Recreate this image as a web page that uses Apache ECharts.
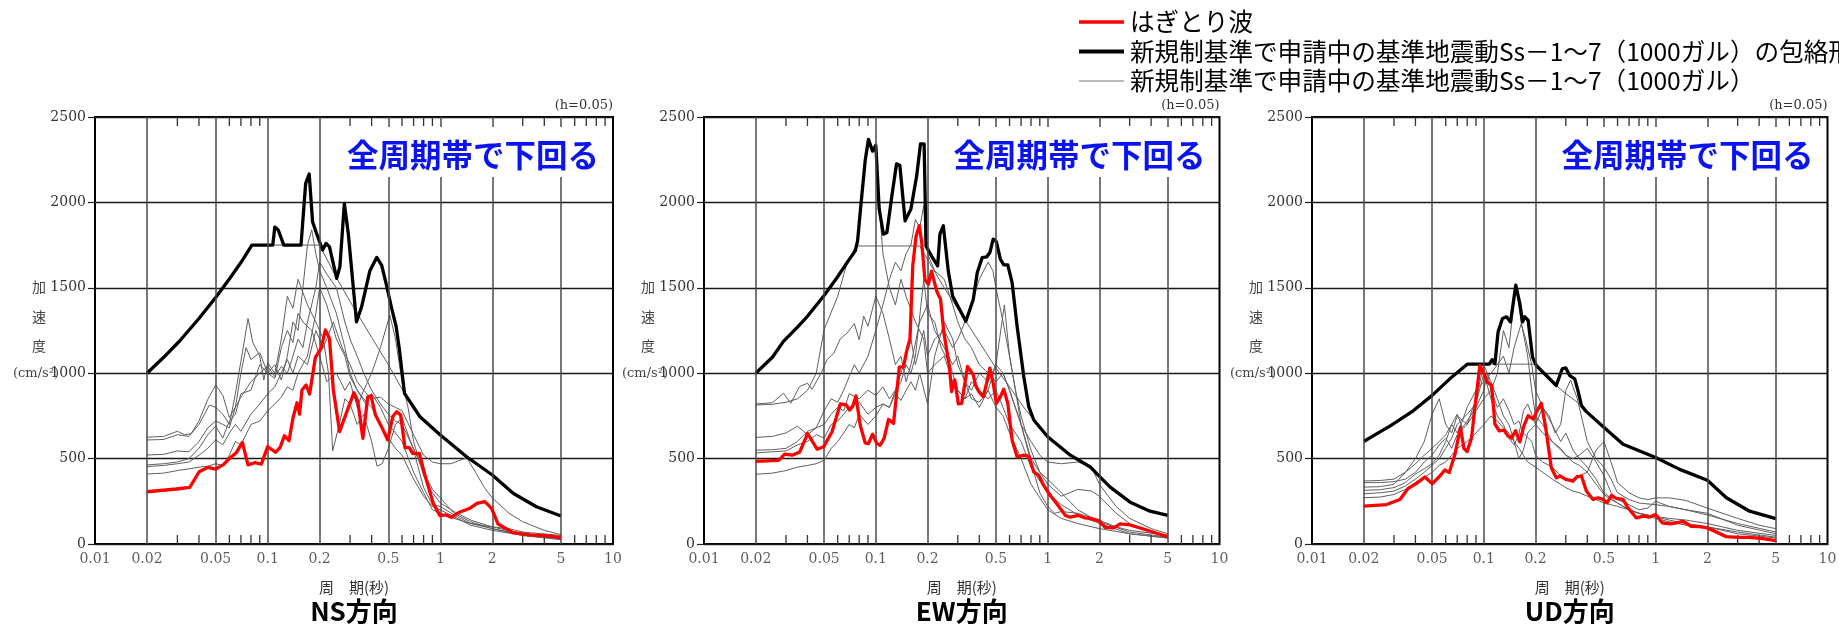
<!DOCTYPE html>
<html><head><meta charset="utf-8">
<script src="https://cdn.jsdelivr.net/npm/echarts@6/dist/echarts.min.js"></script>
<style>html,body{margin:0;padding:0;background:#fff}#c{width:1839px;height:627px}</style>
</head><body><div id="c"></div>
<script>
// ---------- tick / label data ----------
const periodTicks = [0.01,0.02,0.05,0.1,0.2,0.5,1,2,5,10];
const periodTickLabels = ['0.01','0.02','0.05','0.1','0.2','0.5','1','2','5','10'];
const periodGridLines = [0.02,0.05,0.1,0.2,0.5,1,2,5];
const periodMinorTicks = [0.03,0.04,0.06,0.07,0.08,0.09,0.3,0.4,0.6,0.7,0.8,0.9,3,4,6,7,8,9];
const accelTicks = [0,500,1000,1500,2000,2500];
const panelNames = ['NS方向','EW方向','UD方向'];
const legendLabels = ['はぎとり波','新規制基準で申請中の基準地震動Ss－1～7（1000ガル）の包絡形','新規制基準で申請中の基準地震動Ss－1～7（1000ガル）'];
const panelNote = '全周期帯で下回る';
const dampingNote = '(h=0.05)';
const xName = '周　期(秒)';

// ---------- NS ----------
const nsRed = [[0.02,306],[0.0296,322],[0.0354,332],[0.0401,423],[0.0452,449],[0.05,439],[0.0552,463],[0.0603,502],[0.0659,535],[0.0714,595],[0.0769,463],[0.0841,476],[0.0919,468],[0.1,570],[0.111,537],[0.118,564],[0.125,634],[0.133,605],[0.14,736],[0.148,827],[0.153,761],[0.158,902],[0.167,931],[0.175,878],[0.189,1093],[0.204,1146],[0.216,1253],[0.228,1204],[0.24,902],[0.261,658],[0.285,765],[0.316,886],[0.333,833],[0.356,619],[0.38,862],[0.397,867],[0.421,755],[0.455,690],[0.496,609],[0.53,745],[0.558,775],[0.589,755],[0.624,564],[0.661,564],[0.691,531],[0.756,531],[0.814,404],[0.91,238],[0.995,166],[1.077,170],[1.16,156],[1.27,183],[1.48,209],[1.63,238],[1.81,248],[1.98,209],[2.16,117],[2.64,66],[3.3,53],[4.3,47],[5.0,37]];
const nsEnvelope = [[0.02,1000],[0.025,1093],[0.031,1190],[0.04,1320],[0.05,1443],[0.06,1552],[0.07,1648],[0.081,1750],[0.107,1750],[0.11,1855],[0.115,1840],[0.124,1750],[0.156,1750],[0.166,2111],[0.174,2166],[0.182,1887],[0.192,1818],[0.208,1721],[0.218,1760],[0.228,1740],[0.251,1555],[0.262,1623],[0.278,1994],[0.293,1818],[0.327,1301],[0.35,1389],[0.391,1600],[0.428,1678],[0.457,1633],[0.485,1526],[0.52,1389],[0.555,1272],[0.58,1135],[0.62,882],[0.762,745],[1.0,638],[1.42,511],[2.0,404],[2.64,297],[3.6,218],[5.0,164]];
const nsSs1 = [[0.02,1000],[0.025,1093],[0.031,1190],[0.04,1320],[0.05,1443],[0.06,1552],[0.07,1648],[0.081,1750],[0.2,1750],[0.25,1560],[0.3,1420],[0.4,1210],[0.5,1050],[0.62,882],[0.762,745],[1.0,638],[1.42,511],[2.0,404],[2.64,297],[3.6,218],[5.0,164]];
const nsSs2 = [[0.02,625],[0.025,630],[0.03,660],[0.033,640],[0.036,645],[0.04,720],[0.045,847],[0.05,931],[0.055,870],[0.06,740],[0.065,800],[0.07,1000],[0.075,1150],[0.08,1080],[0.09,1120],[0.1,1000],[0.11,1050],[0.12,960],[0.13,1100],[0.14,1300],[0.15,1250],[0.16,1500],[0.17,1750],[0.18,1840],[0.19,1700],[0.2,1600],[0.22,1500],[0.25,1350],[0.28,1150],[0.3,1000],[0.33,900],[0.36,850],[0.4,800],[0.45,700],[0.5,620],[0.55,560],[0.6,520],[0.7,380],[0.8,280],[0.9,220],[1.0,200],[1.2,160],[1.5,110],[2,80],[3,50],[5,30]];
const nsSs3 = [[0.02,609],[0.025,612],[0.03,640],[0.035,630],[0.04,700],[0.046,814],[0.05,800],[0.055,760],[0.06,700],[0.065,880],[0.07,1070],[0.077,1320],[0.082,1180],[0.09,1100],[0.095,960],[0.1,1060],[0.11,1000],[0.12,1200],[0.13,1450],[0.14,1380],[0.15,1550],[0.17,1400],[0.19,1300],[0.21,1200],[0.225,1000],[0.238,545],[0.26,700],[0.28,850],[0.3,820],[0.33,700],[0.36,760],[0.4,600],[0.43,456],[0.46,470],[0.5,560],[0.55,700],[0.6,740],[0.7,550],[0.8,330],[0.9,230],[1.0,220],[1.2,170],[1.5,120],[2,90],[3,50],[5,25]];
const nsSs4 = [[0.02,521],[0.025,525],[0.03,545],[0.035,540],[0.04,600],[0.045,680],[0.05,720],[0.055,700],[0.06,680],[0.065,800],[0.07,860],[0.08,950],[0.09,1000],[0.1,1040],[0.11,980],[0.12,1040],[0.13,1000],[0.14,1100],[0.15,1200],[0.16,1150],[0.17,1300],[0.19,1500],[0.2,1650],[0.22,1580],[0.25,1500],[0.28,1300],[0.3,1200],[0.33,1100],[0.36,1000],[0.4,900],[0.45,820],[0.5,760],[0.55,720],[0.6,700],[0.7,560],[0.8,420],[0.9,320],[1.0,270],[1.2,180],[1.5,130],[2,90],[3,55],[5,30]];
const nsSs5 = [[0.02,463],[0.025,470],[0.03,480],[0.035,500],[0.04,560],[0.045,640],[0.05,690],[0.055,620],[0.06,720],[0.065,760],[0.07,880],[0.08,900],[0.09,1050],[0.1,1000],[0.11,970],[0.12,1150],[0.13,1250],[0.14,1180],[0.15,1350],[0.16,1300],[0.18,1250],[0.2,1100],[0.22,950],[0.25,1000],[0.28,900],[0.3,950],[0.33,800],[0.36,900],[0.4,1000],[0.45,1150],[0.51,1340],[0.55,1200],[0.6,950],[0.65,800],[0.7,600],[0.8,400],[0.9,300],[1.0,240],[1.2,190],[1.5,140],[2,100],[3,60],[5,35]];
const nsSs6 = [[0.02,453],[0.025,460],[0.03,470],[0.035,480],[0.04,520],[0.045,560],[0.05,610],[0.055,580],[0.06,650],[0.065,700],[0.07,660],[0.08,760],[0.09,820],[0.1,880],[0.11,920],[0.12,1000],[0.13,1080],[0.14,1000],[0.15,1100],[0.17,1050],[0.19,1250],[0.21,1150],[0.24,1300],[0.27,1150],[0.3,1050],[0.33,950],[0.36,900],[0.4,850],[0.45,860],[0.5,820],[0.55,800],[0.6,780],[0.7,640],[0.8,520],[0.9,480],[1.0,470],[1.15,470],[1.3,490],[1.42,505],[1.6,420],[1.8,330],[2,270],[2.5,180],[3,130],[4,80],[5,55]];
const nsSs7 = [[0.02,410],[0.025,415],[0.03,430],[0.035,440],[0.04,450],[0.045,455],[0.05,470],[0.055,460],[0.06,520],[0.065,600],[0.07,580],[0.08,700],[0.09,720],[0.1,780],[0.11,820],[0.12,860],[0.13,920],[0.14,900],[0.15,1000],[0.17,1100],[0.19,1350],[0.2,1500],[0.22,1400],[0.25,1200],[0.28,1100],[0.3,980],[0.33,900],[0.37,820],[0.4,880],[0.45,800],[0.5,700],[0.55,650],[0.6,600],[0.7,420],[0.8,300],[0.9,200],[1.0,180],[1.2,150],[1.5,120],[2,100],[2.5,90],[3,70],[5,50]];

// ---------- EW ----------
const ewRed = [[0.02,484],[0.0272,490],[0.0295,526],[0.0326,520],[0.0361,539],[0.0401,647],[0.0455,555],[0.0497,569],[0.0556,657],[0.0621,820],[0.0673,814],[0.0703,784],[0.0732,804],[0.0766,867],[0.0811,696],[0.0867,592],[0.0906,588],[0.0957,643],[0.1014,588],[0.1059,578],[0.1117,618],[0.1186,730],[0.1268,706],[0.137,1035],[0.145,1039],[0.151,1128],[0.158,1200],[0.164,1628],[0.1715,1804],[0.179,1863],[0.185,1765],[0.193,1549],[0.202,1520],[0.211,1598],[0.226,1481],[0.238,1432],[0.249,1235],[0.268,1039],[0.276,892],[0.288,961],[0.302,820],[0.316,824],[0.342,1039],[0.369,990],[0.38,931],[0.398,892],[0.422,863],[0.441,941],[0.461,1030],[0.482,941],[0.503,824],[0.531,863],[0.555,906],[0.586,824],[0.621,608],[0.664,510],[0.726,520],[0.776,514],[0.83,422],[0.887,402],[0.948,343],[1.036,284],[1.13,235],[1.27,167],[1.35,157],[1.51,167],[1.65,153],[1.81,147],[1.98,137],[2.16,98],[2.42,94],[2.64,118],[2.95,114],[3.61,88],[4.31,63],[5.0,43]];
const ewEnvelope = [[0.02,1000],[0.025,1093],[0.029,1186],[0.035,1270],[0.04,1333],[0.05,1455],[0.0594,1559],[0.068,1647],[0.0759,1716],[0.0783,1775],[0.0818,1981],[0.0867,2245],[0.0906,2369],[0.0957,2300],[0.1,2334],[0.1046,1961],[0.1107,1814],[0.116,1824],[0.124,2039],[0.132,2226],[0.138,2216],[0.148,1892],[0.16,1961],[0.173,2157],[0.182,2343],[0.191,2343],[0.196,1745],[0.211,1686],[0.229,1628],[0.236,1814],[0.247,1863],[0.264,1598],[0.28,1451],[0.334,1304],[0.369,1432],[0.389,1588],[0.416,1677],[0.441,1681],[0.461,1706],[0.482,1785],[0.503,1769],[0.531,1667],[0.555,1634],[0.586,1634],[0.621,1530],[0.664,1275],[0.726,981],[0.776,804],[0.83,726],[1.0,628],[1.355,520],[1.77,451],[1.93,412],[2.31,333],[3.02,245],[3.94,192],[5.0,167]];
const ewSs1 = [[0.02,1000],[0.025,1093],[0.029,1186],[0.035,1270],[0.04,1333],[0.05,1455],[0.0594,1559],[0.068,1647],[0.078,1745],[0.18,1745],[0.25,1500],[0.37,1235],[0.5,1030],[0.62,900],[0.726,800],[0.83,726],[1.0,628],[1.355,520],[1.77,451],[1.93,412],[2.31,333],[3.02,245],[3.94,192],[5.0,167]];
const ewSs2 = [[0.02,820],[0.025,827],[0.029,882],[0.032,824],[0.036,922],[0.04,941],[0.0425,906],[0.048,1000],[0.052,1079],[0.057,1118],[0.062,1200],[0.068,1235],[0.075,1290],[0.08,1196],[0.085,1333],[0.09,1275],[0.1,1451],[0.11,1350],[0.12,1200],[0.13,1050],[0.14,1100],[0.15,950],[0.16,1050],[0.18,1300],[0.2,1400],[0.22,1250],[0.25,1150],[0.28,1050],[0.3,1100],[0.33,950],[0.36,900],[0.4,1000],[0.45,950],[0.5,1050],[0.55,1000],[0.6,900],[0.7,700],[0.8,500],[0.9,420],[1.0,380],[1.2,300],[1.5,200],[2,130],[3,70],[5,40]];
const ewSs3 = [[0.02,814],[0.025,818],[0.03,830],[0.035,850],[0.04,900],[0.045,1000],[0.05,1255],[0.06,1450],[0.068,1647],[0.078,1760],[0.082,1981],[0.087,2245],[0.0906,2369],[0.0957,2300],[0.1,2334],[0.105,1961],[0.11,1700],[0.12,1500],[0.13,1400],[0.14,1550],[0.15,1450],[0.17,1300],[0.19,1200],[0.2,1000],[0.22,1050],[0.25,1100],[0.28,950],[0.3,900],[0.33,850],[0.36,950],[0.4,900],[0.45,850],[0.5,900],[0.55,800],[0.6,700],[0.7,600],[0.8,450],[1.0,300],[1.2,230],[1.5,170],[2,120],[3,60],[5,35]];
const ewSs4 = [[0.02,624],[0.025,630],[0.03,650],[0.035,690],[0.04,640],[0.045,680],[0.05,780],[0.055,850],[0.06,830],[0.065,900],[0.07,980],[0.075,1050],[0.08,1000],[0.09,1100],[0.1,1250],[0.11,1400],[0.12,1550],[0.13,1650],[0.14,1600],[0.15,1700],[0.16,1750],[0.17,1900],[0.18,1850],[0.19,1980],[0.2,1700],[0.22,1600],[0.25,1550],[0.28,1400],[0.3,1300],[0.33,1200],[0.36,1150],[0.4,1050],[0.45,1000],[0.5,950],[0.55,1000],[0.6,900],[0.7,700],[0.8,600],[0.9,520],[1.0,480],[1.2,470],[1.5,480],[1.8,450],[2,350],[2.5,220],[3,150],[4,90],[5,60]];
const ewSs5 = [[0.02,549],[0.025,552],[0.03,560],[0.035,600],[0.04,660],[0.045,680],[0.05,700],[0.055,760],[0.06,800],[0.065,780],[0.07,880],[0.08,850],[0.09,900],[0.1,870],[0.11,920],[0.12,850],[0.13,900],[0.14,1000],[0.15,1100],[0.16,1200],[0.17,1050],[0.19,1250],[0.2,1100],[0.22,1200],[0.25,1250],[0.28,1150],[0.3,1200],[0.33,1300],[0.36,1400],[0.4,1550],[0.45,1650],[0.48,1600],[0.5,1500],[0.55,1300],[0.6,1100],[0.65,900],[0.7,750],[0.8,550],[0.9,420],[1.0,350],[1.2,280],[1.5,320],[1.8,310],[2,280],[2.5,180],[3,120],[4,70],[5,45]];
const ewSs6 = [[0.02,533],[0.025,540],[0.03,545],[0.035,580],[0.04,600],[0.045,640],[0.05,620],[0.055,700],[0.06,720],[0.065,760],[0.07,800],[0.08,830],[0.09,760],[0.1,800],[0.11,820],[0.12,800],[0.13,900],[0.14,950],[0.15,1050],[0.16,1000],[0.17,1100],[0.19,1550],[0.2,1350],[0.22,1300],[0.24,1150],[0.27,1050],[0.3,900],[0.33,850],[0.36,880],[0.4,800],[0.45,900],[0.5,1050],[0.56,1400],[0.6,1100],[0.65,900],[0.7,700],[0.8,480],[0.9,300],[1.0,220],[1.1,180],[1.2,190],[1.5,180],[2,140],[2.5,100],[3,80],[5,50]];
const ewSs7 = [[0.02,408],[0.025,415],[0.03,430],[0.035,450],[0.04,460],[0.045,470],[0.05,490],[0.055,560],[0.06,600],[0.065,650],[0.07,700],[0.075,680],[0.08,760],[0.09,700],[0.1,750],[0.11,820],[0.12,800],[0.13,880],[0.14,840],[0.15,900],[0.16,950],[0.17,900],[0.18,1000],[0.2,820],[0.22,1100],[0.25,1300],[0.28,1200],[0.3,1050],[0.33,950],[0.36,850],[0.4,830],[0.45,900],[0.5,800],[0.55,750],[0.6,650],[0.7,500],[0.8,350],[0.9,270],[1.0,200],[1.2,150],[1.5,120],[2,90],[3,60],[5,35]];

// ---------- UD ----------
const udRed = [[0.02,222],[0.0272,231],[0.0325,261],[0.0363,326],[0.0406,355],[0.0454,392],[0.0501,353],[0.0555,398],[0.0593,433],[0.0629,418],[0.0678,522],[0.0731,682],[0.0766,559],[0.08,541],[0.0848,620],[0.0887,800],[0.0948,1045],[0.1,1000],[0.105,947],[0.111,928],[0.116,702],[0.1228,663],[0.131,667],[0.138,633],[0.1448,620],[0.153,663],[0.162,598],[0.171,692],[0.181,751],[0.194,731],[0.202,771],[0.216,824],[0.229,682],[0.247,447],[0.264,388],[0.279,398],[0.3,378],[0.33,369],[0.349,394],[0.37,398],[0.395,310],[0.432,261],[0.462,271],[0.494,261],[0.521,241],[0.552,284],[0.59,267],[0.646,261],[0.69,212],[0.772,153],[0.851,163],[0.915,157],[1.0,173],[1.09,124],[1.21,118],[1.32,124],[1.44,133],[1.61,104],[1.8,102],[2.0,94],[2.25,71],[2.58,43],[3.01,39],[3.52,39],[4.21,31],[5.0,20]];
const udEnvelope = [[0.02,600],[0.025,658],[0.0284,690],[0.0388,780],[0.05,870],[0.0634,967],[0.08,1053],[0.1074,1053],[0.1118,1079],[0.116,1055],[0.121,1241],[0.1284,1320],[0.1355,1330],[0.143,1300],[0.1535,1516],[0.162,1408],[0.168,1300],[0.173,1330],[0.181,1310],[0.192,1094],[0.202,1045],[0.264,928],[0.286,1026],[0.3,1031],[0.316,986],[0.338,967],[0.353,898],[0.37,810],[0.395,775],[0.501,682],[0.646,584],[1.0,506],[1.38,437],[2.0,373],[2.58,271],[3.52,192],[5.0,149]];
const udSs1 = [[0.02,600],[0.025,658],[0.0284,690],[0.0388,780],[0.05,870],[0.0634,967],[0.08,1053],[0.2,1053],[0.264,928],[0.3,880],[0.35,830],[0.37,810],[0.395,775],[0.501,682],[0.646,584],[1.0,506],[1.38,437],[2.0,373],[2.58,271],[3.52,192],[5.0,149]];
const udSs2 = [[0.02,369],[0.025,372],[0.03,380],[0.035,420],[0.04,470],[0.045,520],[0.05,560],[0.055,600],[0.06,640],[0.065,700],[0.07,650],[0.075,720],[0.08,800],[0.09,900],[0.1,950],[0.11,1000],[0.12,1050],[0.13,1100],[0.14,1000],[0.15,1150],[0.165,1290],[0.175,1200],[0.19,1050],[0.2,900],[0.22,800],[0.25,700],[0.28,600],[0.3,650],[0.33,550],[0.36,500],[0.4,450],[0.45,380],[0.5,300],[0.6,240],[0.7,200],[0.8,180],[1.0,150],[1.2,130],[1.5,110],[2,100],[3,70],[5,40]];
const udSs3 = [[0.02,359],[0.025,360],[0.03,365],[0.035,380],[0.04,420],[0.045,480],[0.05,520],[0.055,580],[0.06,620],[0.065,560],[0.07,640],[0.08,700],[0.09,780],[0.1,850],[0.11,900],[0.12,1000],[0.13,1250],[0.14,1150],[0.1535,1516],[0.165,1300],[0.18,1100],[0.19,900],[0.2,750],[0.22,700],[0.25,600],[0.28,560],[0.3,520],[0.33,480],[0.36,460],[0.4,420],[0.45,350],[0.5,290],[0.55,260],[0.6,240],[0.7,200],[0.8,180],[1.0,160],[1.2,140],[1.5,120],[2,100],[3,60],[5,35]];
const udSs4 = [[0.02,333],[0.025,336],[0.03,350],[0.035,420],[0.04,500],[0.045,600],[0.05,760],[0.055,850],[0.06,700],[0.065,650],[0.07,750],[0.08,700],[0.09,850],[0.1,1050],[0.11,950],[0.12,850],[0.13,750],[0.14,700],[0.15,600],[0.16,500],[0.17,550],[0.18,650],[0.2,700],[0.22,800],[0.24,750],[0.26,650],[0.28,700],[0.3,900],[0.32,960],[0.35,850],[0.4,600],[0.45,500],[0.5,450],[0.55,380],[0.6,300],[0.7,260],[0.8,240],[1.0,230],[1.2,220],[1.5,200],[2,180],[3,110],[5,60]];
const udSs5 = [[0.02,314],[0.025,318],[0.03,330],[0.035,360],[0.04,410],[0.045,440],[0.05,470],[0.055,520],[0.06,600],[0.065,700],[0.07,760],[0.075,680],[0.08,720],[0.09,800],[0.1,900],[0.105,1000],[0.11,900],[0.12,800],[0.13,850],[0.14,780],[0.15,700],[0.16,720],[0.17,650],[0.19,600],[0.2,520],[0.22,480],[0.25,450],[0.28,400],[0.3,380],[0.33,360],[0.36,400],[0.4,420],[0.45,550],[0.5,600],[0.55,480],[0.6,360],[0.7,300],[0.8,270],[0.9,260],[1.0,270],[1.2,270],[1.5,255],[2,210],[3,150],[4,110],[5,90]];
const udSs6 = [[0.02,294],[0.025,300],[0.03,310],[0.035,340],[0.04,380],[0.045,420],[0.05,460],[0.055,500],[0.06,560],[0.065,620],[0.07,700],[0.08,760],[0.09,820],[0.1,1000],[0.11,850],[0.12,750],[0.13,700],[0.14,620],[0.15,580],[0.16,640],[0.17,780],[0.18,820],[0.19,760],[0.2,700],[0.22,650],[0.25,600],[0.28,550],[0.3,520],[0.33,500],[0.36,520],[0.4,560],[0.45,480],[0.5,400],[0.55,300],[0.6,260],[0.7,230],[0.8,200],[0.9,210],[1.0,250],[1.2,220],[1.5,200],[2,170],[3,120],[5,70]];
const udSs7 = [[0.02,271],[0.025,275],[0.03,290],[0.035,320],[0.04,360],[0.045,390],[0.05,420],[0.055,460],[0.06,480],[0.065,520],[0.07,560],[0.08,600],[0.09,650],[0.1,700],[0.11,750],[0.12,720],[0.13,680],[0.14,650],[0.15,600],[0.16,560],[0.17,520],[0.18,480],[0.2,450],[0.22,420],[0.25,380],[0.28,350],[0.3,330],[0.33,310],[0.36,300],[0.4,280],[0.45,260],[0.5,240],[0.6,220],[0.7,200],[0.8,180],[1.0,160],[1.2,150],[1.5,140],[2,120],[3,80],[5,50]];

// ---------- assemble ----------
const panels = [
  {name: panelNames[0], red: nsRed, env: nsEnvelope, ss: [nsSs1,nsSs2,nsSs3,nsSs4,nsSs5,nsSs6,nsSs7]},
  {name: panelNames[1], red: ewRed, env: ewEnvelope, ss: [ewSs1,ewSs2,ewSs3,ewSs4,ewSs5,ewSs6,ewSs7]},
  {name: panelNames[2], red: udRed, env: udEnvelope, ss: [udSs1,udSs2,udSs3,udSs4,udSs5,udSs6,udSs7]}
];
const layout = [{left:95,width:518},{left:704,width:515.5},{left:1312,width:515.5}];
const TOP = 117, BOTTOM = 83;
const CJK = '"Noto Sans CJK JP", sans-serif';
const SERIF = '"DejaVu Serif", serif';
const yMax = accelTicks[accelTicks.length-1];

const grids = [], xAxes = [], yAxes = [], series = [], graphics = [];
panels.forEach((p, i) => {
  const L = layout[i].left, W = layout[i].width, R = L + W;
  grids.push({left: L, width: W, top: TOP, bottom: BOTTOM, show: true, borderColor: '#000', borderWidth: 2, backgroundColor: 'transparent', containLabel: false, outerBoundsMode: 'none'});
  xAxes.push({type: 'log', logBase: 10, gridIndex: i, min: periodTicks[0], max: periodTicks[periodTicks.length-1],
    axisLine: {show: false}, axisTick: {show: false}, axisLabel: {show: false}, splitLine: {show: false}, minorTick: {show:false}, minorSplitLine:{show:false},
    name: xName, nameLocation: 'middle', nameGap: 36, nameTextStyle: {fontSize: 15, color: '#333', fontFamily: CJK}});
  yAxes.push({type: 'value', gridIndex: i, min: accelTicks[0], max: yMax, interval: accelTicks[1]-accelTicks[0],
    axisLine: {show: false}, axisTick: {show: true, inside: false, length: 7, lineStyle: {color: '#222', width: 1.2}},
    axisLabel: {fontFamily: SERIF, fontSize: 14, color: '#333', margin: 9, formatter: v => String(v)},
    splitLine: {show: true, lineStyle: {color: '#1a1a1a', width: 1.3}}});
  const base = {xAxisIndex: i, yAxisIndex: i, animation: false, silent: true};
  series.push(Object.assign({}, base, {type: 'line', data: [], z: 1,
    markLine: {silent: true, symbol: ['none','none'], animation: false, label: {show: false},
      lineStyle: {color: '#4a4a4a', width: 1.5, type: 'solid'}, emphasis: {disabled: true},
      data: periodGridLines.map(v => ({xAxis: v}))}}));
  series.push(Object.assign({}, base, {type: 'custom', z: 3, clip: false,
    data: periodMinorTicks.map(v => [v, 0]), encode: {x: 0, y: 1},
    renderItem: (params, api) => {
      const b = api.coord([api.value(0), accelTicks[0]]);
      const t = api.coord([api.value(0), yMax]);
      return {type: 'group', children: [
        {type: 'line', shape: {x1: b[0], y1: b[1], x2: b[0], y2: b[1] - 9}, style: {stroke: '#333', lineWidth: 1.3}},
        {type: 'line', shape: {x1: t[0], y1: t[1], x2: t[0], y2: t[1] + 9}, style: {stroke: '#333', lineWidth: 1.3}}
      ]};
    }}));
  p.ss.forEach(d => series.push(Object.assign({}, base, {type: 'line', data: d, symbol: 'none', z: 2,
    lineStyle: {color: '#606060', width: 1}})));
  series.push(Object.assign({}, base, {type: 'line', data: p.env, symbol: 'none', z: 4,
    lineStyle: {color: '#000', width: 3.3, join: 'round'}}));
  series.push(Object.assign({}, base, {type: 'line', data: p.red, symbol: 'none', z: 5,
    lineStyle: {color: '#ff0000', width: 3.3, join: 'round'}}));
  series.push(Object.assign({}, base, {type: 'scatter', data: periodTicks.map(v => [v, accelTicks[0]]), symbolSize: 0, clip: false, z: 6,
    label: {show: true, position: 'bottom', distance: 8, formatter: q => periodTickLabels[q.dataIndex],
      fontFamily: SERIF, fontSize: 14, color: '#333'}}));

  // white box + note
  graphics.push({type: 'rect', z: 20, shape: {x: R - 276, y: 127, width: 274, height: 50}, style: {fill: '#fff'}});
  graphics.push({type: 'text', z: 21, x: R - 14, y: 155, style: {text: panelNote, fill: '#0a14ee', font: 'bold 31.5px ' + CJK, align: 'right', verticalAlign: 'middle'}});
  graphics.push({type: 'text', z: 21, x: R, y: 106, style: {text: dampingNote, fill: '#333', font: '13px ' + SERIF, align: 'right', verticalAlign: 'middle'}});
  ['加','速','度'].forEach((ch, k) => graphics.push({type: 'text', z: 21, x: L - 56, y: 287 + k * 29.5,
    style: {text: ch, fill: '#444', font: '14px ' + CJK, align: 'center', verticalAlign: 'middle'}}));
  graphics.push({type: 'text', z: 21, x: L - 82, y: 374, style: {text: '(cm/s²)', fill: '#444', font: '13px ' + SERIF, align: 'left', verticalAlign: 'middle'}});
  graphics.push({type: 'text', z: 21, x: L + W / 2, y: 611, style: {text: p.name, fill: '#000', font: 'bold 26px ' + CJK, align: 'center', verticalAlign: 'middle'}});
});

// legend
const legendStyles = [{c: '#ff0000', w: 3.5}, {c: '#000', w: 4}, {c: '#777', w: 1.2}];
legendLabels.forEach((t, k) => {
  const y = 22 + k * 29.5;
  graphics.push({type: 'line', z: 21, shape: {x1: 1079, y1: y, x2: 1124, y2: y}, style: {stroke: legendStyles[k].c, lineWidth: legendStyles[k].w}});
  graphics.push({type: 'text', z: 21, x: 1130, y: y, style: {text: t, fill: '#000', font: '24.6px ' + CJK, align: 'left', verticalAlign: 'middle'}});
});

const chart = echarts.init(document.getElementById('c'), null, {renderer: 'canvas'});
chart.setOption({
  animation: false,
  backgroundColor: '#fff',
  grid: grids, xAxis: xAxes, yAxis: yAxes, series: series,
  graphic: {elements: graphics}
});
</script></body></html>
